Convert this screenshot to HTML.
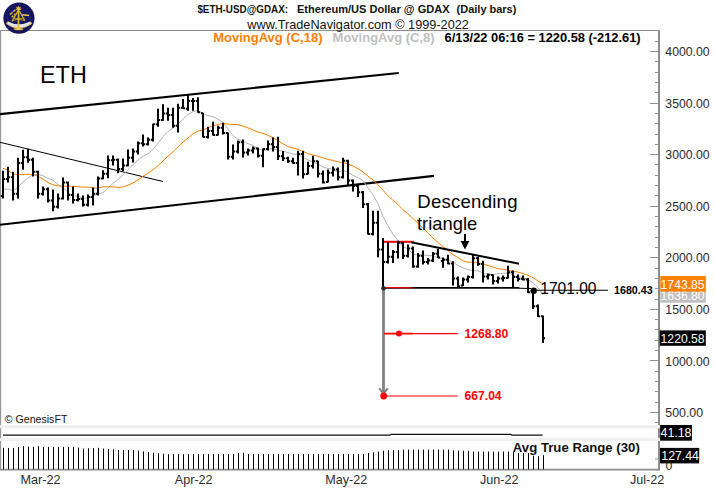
<!DOCTYPE html>
<html><head><meta charset="utf-8"><title>ETH chart</title>
<style>
html,body{margin:0;padding:0;background:#fff;}
body{width:714px;height:504px;overflow:hidden;font-family:"Liberation Sans",Arial,sans-serif;}
svg{display:block;position:absolute;left:0;top:0;}
</style></head><body>
<svg width="714" height="504" viewBox="0 0 714 504" font-family="Liberation Sans, Arial, sans-serif">
<rect width="714" height="504" fill="#fff"/>
<!-- frame -->
<path d="M0 30.5H659.8" stroke="#8a8a8a" stroke-width="1.1" fill="none"/>
<path d="M0.65 30V470" stroke="#888" stroke-width="1" fill="none"/>
<path d="M659 30V470.5" stroke="#8c8c8c" stroke-width="2" fill="none"/>
<path d="M0 469.7H659.6" stroke="#8c8c8c" stroke-width="1.8" fill="none"/>
<!-- separator bands -->
<rect x="0" y="425.2" width="660" height="3" fill="#f0f0f0"/>
<rect x="0" y="438" width="660" height="3" fill="#f0f0f0"/>
<path d="M3 435.1H390L391 434.3H511L512 435.1H542.6" stroke="#111" stroke-width="1.15" fill="none"/>
<!-- ticks -->
<path d="M655 422.5H658.2M650 412.5H658.2M655 402.5H658.2M655 391.5H658.2M655 381.5H658.2M655 371.5H658.2M650 360.5H658.2M655 350.5H658.2M655 340.5H658.2M655 329.5H658.2M655 319.5H658.2M650 309.5H658.2M655 299.5H658.2M655 288.5H658.2M655 278.5H658.2M655 268.5H658.2M650 257.5H658.2M655 247.5H658.2M655 237.5H658.2M655 226.5H658.2M655 216.5H658.2M650 206.5H658.2M655 195.5H658.2M655 185.5H658.2M655 175.5H658.2M655 164.5H658.2M650 154.5H658.2M655 144.5H658.2M655 134.5H658.2M655 123.5H658.2M655 113.5H658.2M650 103.5H658.2M655 92.5H658.2M655 82.5H658.2M655 72.5H658.2M655 61.5H658.2M650 51.5H658.2M655 41.5H658.2M655 459H658.2" stroke="#909090" stroke-width="1" fill="none"/>
<g font-size="12.8" fill="#2b2b2b"><text x="665.3" y="417.1" textLength="37.8" lengthAdjust="spacingAndGlyphs">500.00</text><text x="665.3" y="365.5" textLength="44.4" lengthAdjust="spacingAndGlyphs">1000.00</text><text x="665.3" y="313.9" textLength="44.4" lengthAdjust="spacingAndGlyphs">1500.00</text><text x="665.3" y="262.3" textLength="44.4" lengthAdjust="spacingAndGlyphs">2000.00</text><text x="665.3" y="210.8" textLength="44.4" lengthAdjust="spacingAndGlyphs">2500.00</text><text x="665.3" y="159.2" textLength="44.4" lengthAdjust="spacingAndGlyphs">3000.00</text><text x="665.3" y="107.6" textLength="44.4" lengthAdjust="spacingAndGlyphs">3500.00</text><text x="665.3" y="56.0" textLength="44.4" lengthAdjust="spacingAndGlyphs">4000.00</text></g>
<!-- channel lines -->
<path d="M0 114.2L398.8 73.0" stroke="#000" stroke-width="2.2" fill="none"/>
<path d="M0 224.8L434 175.9" stroke="#000" stroke-width="2.1" fill="none"/>
<path d="M0 142.3L163 181.5" stroke="#000" stroke-width="1" fill="none"/>
<!-- MAs -->
<polyline points="3.0,189.1 8.0,189.1 13.0,190.9 18.0,187.1 23.0,182.0 28.0,178.0 33.0,174.7 38.0,174.4 43.0,175.7 48.0,178.6 53.0,180.2 58.0,184.7 63.0,187.8 68.0,192.2 73.0,195.8 78.0,196.4 83.0,198.3 88.0,197.9 93.0,196.3 98.0,193.8 103.0,192.7 108.0,188.4 113.0,183.3 118.0,179.6 123.0,174.7 128.0,169.8 133.0,164.5 138.0,160.1 143.0,156.4 148.0,153.9 153.0,149.4 158.0,143.3 163.0,136.8 168.0,131.4 173.0,128.2 178.0,123.8 183.0,119.3 188.0,114.5 193.0,111.6 198.0,110.6 203.0,113.6 208.0,115.6 213.0,116.7 218.0,119.3 223.0,122.3 228.0,129.2 233.0,135.6 238.0,139.3 243.0,141.2 248.0,143.7 253.0,145.4 258.0,148.8 263.0,150.8 268.0,149.3 273.0,148.7 278.0,150.5 283.0,151.2 288.0,152.5 293.0,154.3 298.0,154.1 303.0,157.3 308.0,160.0 313.0,161.8 318.0,164.0 323.0,167.0 328.0,168.4 333.0,169.3 338.0,172.2 343.0,170.5 348.0,172.3 353.0,175.4 358.0,177.7 363.0,180.4 368.0,188.1 373.0,194.7 378.0,203.8 383.0,216.4 388.0,225.9 393.0,234.2 398.0,240.5 403.0,247.0 408.0,248.8 413.0,254.2 418.0,255.0 423.0,255.0 428.0,255.5 433.0,255.7 438.0,257.9 443.0,258.4 448.0,260.3 453.0,261.8 458.0,265.6 463.0,267.8 468.0,269.8 473.0,270.4 478.0,270.8 483.0,272.9 488.0,274.3 493.0,274.6 498.0,273.6 503.0,273.5 508.0,272.9 513.0,275.2 518.0,277.1 523.0,277.4 528.0,279.6 533.0,282.8 538.0,287.5 543.0,295.1" fill="none" stroke="#b2b2b2" stroke-width="1"/>
<polyline points="3.0,168.3 8.0,170.3 13.0,173.8 18.0,174.7 23.0,174.4 28.0,174.3 33.0,174.5 38.0,176.3 43.0,179.2 48.0,182.5 53.0,184.8 58.0,185.9 63.0,186.1 68.0,186.2 73.0,186.3 78.0,186.7 83.0,187.1 88.0,187.1 93.0,188.0 98.0,188.0 103.0,186.9 108.0,186.8 113.0,186.9 118.0,187.4 123.0,187.1 128.0,185.1 133.0,183.0 138.0,179.8 143.0,176.3 148.0,173.1 153.0,169.8 158.0,165.7 163.0,160.9 168.0,156.2 173.0,151.8 178.0,146.8 183.0,142.1 188.0,137.8 193.0,133.8 198.0,131.1 203.0,129.9 208.0,127.7 213.0,126.0 218.0,124.4 223.0,123.4 228.0,124.1 233.0,124.5 238.0,124.6 243.0,126.2 248.0,127.9 253.0,129.9 258.0,132.1 263.0,133.4 268.0,135.4 273.0,137.6 278.0,140.6 283.0,143.8 288.0,146.5 293.0,148.0 298.0,149.3 303.0,151.4 308.0,153.6 313.0,155.1 318.0,156.1 323.0,157.8 328.0,159.5 333.0,160.4 338.0,161.9 343.0,162.6 348.0,164.0 353.0,166.0 358.0,168.7 363.0,171.9 368.0,176.2 373.0,179.8 378.0,184.7 383.0,190.2 388.0,195.9 393.0,200.2 398.0,204.5 403.0,209.7 408.0,213.9 413.0,218.6 418.0,223.2 423.0,228.3 428.0,232.9 433.0,238.1 438.0,242.5 443.0,246.6 448.0,250.6 453.0,254.7 458.0,257.6 463.0,260.8 468.0,262.3 473.0,262.1 478.0,262.5 483.0,263.8 488.0,265.6 493.0,267.0 498.0,268.7 503.0,269.3 508.0,270.2 513.0,271.1 518.0,272.1 523.0,273.5 528.0,275.3 533.0,277.8 538.0,280.8 543.0,284.1" fill="none" stroke="#ff8000" stroke-width="1"/>
<path d="M383 241.8H413.7" stroke="#f00" stroke-width="2" fill="none"/>
<!-- bars -->
<path d="M3.0 170.7V198.5M0.9 195.9H3.0M3.0 178.9H5.1M8.0 166.7V182.6M5.9 178.9H8.0M8.0 177.3H10.1M13.0 171.7V200.4M10.9 177.3H13.0M13.0 193.8H15.1M18.0 157.8V198.5M15.9 193.8H18.0M18.0 162.9H20.1M23.0 149.8V169.7M20.9 162.9H23.0M23.0 157.2H25.1M28.0 148.8V162.7M25.9 157.2H28.0M28.0 159.8H30.1M33.0 157.8V176.6M30.9 159.8H33.0M33.0 171.7H35.1M38.0 170.7V198.5M35.9 171.7H38.0M38.0 193.8H40.1M43.0 186.5V195.5M40.9 193.8H43.0M43.0 189.2H45.1M48.0 187.5V202.4M45.9 189.2H48.0M48.0 200.5H50.1M53.0 189.5V211.3M50.9 200.5H53.0M53.0 206.7H55.1M58.0 193.5V208.4M55.9 206.7H58.0M58.0 198.5H60.1M63.0 177.6V199.4M60.9 198.5H63.0M63.0 182.5H65.1M68.0 181.6V200.4M65.9 182.5H68.0M68.0 194.9H70.1M73.0 186.5V203.4M70.9 194.9H73.0M73.0 200.0H75.1M78.0 193.5V201.4M75.9 200.0H78.0M78.0 199.0H80.1M83.0 195.5V206.4M80.9 199.0H83.0M83.0 204.7H85.1M88.0 194.5V206.4M85.9 204.7H88.0M88.0 196.9H90.1M93.0 187.5V205.4M90.9 196.9H93.0M93.0 193.8H95.1M98.0 176.6V195.5M95.9 193.8H98.0M98.0 178.4H100.1M103.0 170.3V179.2M100.9 178.4H103.0M103.0 173.7H105.1M108.0 155.4V178.3M105.9 173.7H108.0M108.0 160.3H110.1M113.0 155.4V165.4M110.9 160.3H113.0M113.0 159.8H115.1M118.0 158.4V173.3M115.9 159.8H118.0M118.0 169.1H120.1M123.0 158.4V171.3M120.9 169.1H123.0M123.0 165.5H125.1M128.0 149.5V166.3M125.9 165.5H128.0M128.0 157.7H130.1M133.0 148.5V162.4M130.9 157.7H133.0M133.0 151.5H135.1M138.0 141.5V154.4M135.9 151.5H138.0M138.0 143.3H140.1M143.0 134.6V146.5M140.9 143.3H143.0M143.0 144.3H145.1M148.0 137.6V145.5M145.9 144.3H148.0M148.0 139.7H150.1M153.0 123.7V141.5M150.9 139.7H153.0M153.0 124.2H155.1M158.0 108.8V126.7M155.9 124.2H158.0M158.0 120.1H160.1M163.0 104.2V120.7M160.9 120.1H163.0M163.0 113.4H165.1M168.0 107.8V120.7M165.9 113.4H168.0M168.0 114.9H170.1M173.0 107.8V127.7M170.9 114.9H173.0M173.0 125.8H175.1M178.0 103.8V132.6M175.9 125.8H178.0M178.0 107.7H180.1M183.0 98.9V108.8M180.9 107.7H183.0M183.0 108.3H185.1M188.0 93.9V110.8M185.9 108.7H188.0M188.0 101.0H190.1M193.0 97.9V110.8M190.9 101.0H193.0M193.0 101.0H195.1M198.0 97.3V112.8M195.9 101.0H198.0M198.0 112.3H200.1M203.0 112.8V137.6M200.9 113.3H203.0M203.0 137.1H205.1M208.0 126.7V138.6M205.9 137.1H208.0M208.0 130.9H210.1M213.0 121.7V135.6M210.9 130.9H213.0M213.0 135.0H215.1M218.0 125.7V135.6M215.9 135.0H218.0M218.0 127.8H220.1M223.0 122.7V134.6M220.9 127.8H223.0M223.0 133.0H225.1M228.0 132.6V159.4M225.9 133.1H228.0M228.0 156.7H230.1M233.0 144.5V159.4M230.9 156.7H233.0M233.0 151.5H235.1M238.0 140.6V153.5M235.9 151.5H238.0M238.0 142.3H240.1M243.0 139.6V157.4M240.9 142.3H243.0M243.0 152.6H245.1M248.0 148.5V155.4M245.9 152.6H248.0M248.0 150.5H250.1M253.0 146.5V153.5M250.9 150.5H253.0M253.0 148.5H255.1M258.0 147.5V157.4M255.9 148.5H258.0M258.0 155.7H260.1M263.0 148.5V167.3M260.9 155.7H263.0M263.0 149.0H265.1M268.0 140.6V150.5M265.9 149.0H268.0M268.0 144.3H270.1M273.0 137.6V151.5M270.9 144.3H273.0M273.0 146.9H275.1M278.0 136.8V160.0M275.9 146.9H278.0M278.0 156.2H280.1M283.0 151.0V161.0M280.9 156.2H283.0M283.0 158.3H285.1M288.0 156.7V162.7M285.9 158.3H288.0M288.0 161.3H290.1M293.0 157.7V163.7M290.9 161.3H293.0M293.0 162.9H295.1M298.0 150.8V175.6M295.9 162.9H298.0M298.0 154.1H300.1M303.0 150.8V178.5M300.9 154.1H303.0M303.0 174.2H305.1M308.0 161.7V174.6M305.9 174.1H308.0M308.0 166.0H310.1M313.0 155.7V168.6M310.9 166.0H313.0M313.0 161.3H315.1M318.0 160.7V177.5M315.9 161.3H318.0M318.0 173.7H320.1M323.0 170.6V183.5M320.9 173.7H323.0M323.0 182.5H325.1M328.0 169.6V182.5M325.9 182.0H328.0M328.0 172.7H330.1M333.0 166.6V176.5M330.9 172.7H333.0M333.0 169.6H335.1M338.0 167.6V180.5M335.9 169.6H338.0M338.0 177.3H340.1M343.0 157.7V178.5M340.9 177.3H343.0M343.0 160.8H345.1M348.0 159.7V185.5M345.9 160.8H348.0M348.0 180.4H350.1M353.0 179.5V191.4M350.9 180.4H353.0M353.0 186.1H355.1M358.0 184.2V197.1M355.9 186.1H358.0M358.0 192.3H360.1M363.0 191.0V208.0M360.9 192.3H363.0M363.0 204.2H365.1M368.0 203.0V234.5M365.9 204.2H368.0M368.0 234.0H370.1M373.0 210.7V235.5M370.9 234.1H373.0M373.0 222.7H375.1M378.0 210.7V257.3M375.9 222.7H378.0M378.0 249.5H380.1M383.0 238.0V288.5M380.9 249.5H383.0M383.0 261.9H385.1M388.0 242.2V263.5M385.9 261.9H388.0M388.0 256.8H390.1M393.0 250.0V263.0M390.9 256.8H393.0M393.0 252.1H395.1M398.0 240.7V258.5M395.9 252.1H398.0M398.0 242.8H400.1M403.0 241.7V259.0M400.9 242.8H403.0M403.0 255.7H405.1M408.0 244.6V257.5M405.9 255.7H408.0M408.0 248.5H410.1M413.0 246.6V267.7M410.9 248.5H413.0M413.0 266.6H415.1M418.0 253.0V267.7M415.9 266.6H418.0M418.0 255.7H420.1M423.0 250.6V264.5M420.9 255.7H423.0M423.0 261.9H425.1M428.0 258.0V264.5M425.9 261.9H428.0M428.0 260.4H430.1M433.0 252.0V262.0M430.9 260.4H433.0M433.0 253.7H435.1M438.0 249.0V258.0M435.9 253.7H438.0M438.0 257.5H440.1M443.0 257.5V267.7M440.9 260.9H443.0M443.0 259.8H445.1M448.0 254.8V264.2M445.9 259.8H448.0M448.0 263.5H450.1M453.0 261.2V285.5M450.9 263.5H453.0M453.0 278.4H455.1M458.0 276.6V287.5M455.9 278.4H458.0M458.0 286.2H460.1M463.0 277.6V286.0M460.9 285.5H463.0M463.0 279.4H465.1M468.0 275.6V282.5M465.9 279.4H468.0M468.0 276.9H470.1M473.0 254.8V278.6M470.9 276.9H473.0M473.0 258.3H475.1M478.0 256.7V265.7M475.9 258.3H478.0M478.0 264.0H480.1M483.0 260.7V282.5M480.9 264.0H483.0M483.0 276.4H485.1M488.0 273.6V279.6M485.9 276.4H488.0M488.0 274.8H490.1M493.0 274.6V284.5M490.9 275.1H493.0M493.0 281.0H495.1M498.0 276.6V283.5M495.9 281.0H498.0M498.0 278.4H500.1M503.0 275.6V281.5M500.9 278.4H503.0M503.0 277.9H505.1M508.0 265.7V278.6M505.9 277.9H508.0M508.0 272.2H510.1M513.0 270.6V287.5M510.9 272.2H513.0M513.0 276.9H515.1M518.0 274.6V281.5M515.9 276.9H518.0M518.0 278.9H520.1M523.0 275.6V280.6M520.9 278.9H523.0M523.0 279.4H525.1M528.0 278.0V293.0M525.9 279.4H528.0M528.0 292.3H530.1M533.0 289.5V309.0M530.9 292.3H533.0M533.0 306.3H535.1M538.0 304.4V317.0M535.9 306.3H538.0M538.0 316.2H540.1M543.0 315.4V343.0M540.9 316.2H543.0M543.0 338.2H545.1" stroke="#000" stroke-width="2" fill="none"/>
<!-- triangle -->
<path d="M411 242.2L519 263.8" stroke="#000" stroke-width="2" fill="none"/>
<path d="M383 287.9H519.3" stroke="#000" stroke-width="1.9" fill="none"/>
<path d="M519 288.2L531 288.5M534 290.2H608" stroke="#000" stroke-width="1.05" fill="none"/>
<path d="M384 287.5L412.7 287.8" stroke="#f00" stroke-width="1.2" fill="none"/>
<!-- gray arrow -->
<path d="M383.5 290V393" stroke="#808080" stroke-width="2.8" fill="none"/>
<path d="M379.3 388.3L383.5 393.6L387.7 388.3" stroke="#808080" stroke-width="2" fill="none"/>
<circle cx="383.5" cy="288.3" r="2.2" fill="#222"/>
<circle cx="533.7" cy="290.7" r="3.2" fill="#000"/>
<!-- red targets -->
<path d="M384 333.6H413" stroke="#f00" stroke-width="1.8"/>
<path d="M413 333.6H457.8" stroke="#f00" stroke-width="1.1"/>
<circle cx="398.9" cy="333.6" r="3" fill="#f00"/>
<path d="M384 396H457.8" stroke="#f00" stroke-width="1.2"/>
<circle cx="383.7" cy="396" r="3.4" fill="#f00"/>
<g font-size="12.1" font-weight="bold" fill="#f00">
<text x="464.6" y="338">1268.80</text>
<text x="464.6" y="400">667.04</text>
</g>
<!-- annotation -->
<g font-size="18.6" fill="#000">
<text x="417.3" y="207.8" letter-spacing="0.22">Descending</text>
<text x="417.0" y="229.7" font-size="18.4">triangle</text>
<text x="40" y="83.2" font-size="24" textLength="46.8" lengthAdjust="spacingAndGlyphs">ETH</text>
</g>
<path d="M465 234V243" stroke="#000" stroke-width="2"/>
<path d="M460.6 240.9H469.4L465 249.6Z" fill="#000"/>
<text x="540.3" y="293.8" font-size="15.9" fill="#000" textLength="56.2" lengthAdjust="spacingAndGlyphs">1701.00</text>
<text x="614" y="294" font-size="10.7" font-weight="bold" fill="#000">1680.43</text>
<!-- price tags -->
<rect x="660.3" y="291" width="45.5" height="11.7" fill="#c0c0c0"/>
<text x="660.6" y="299.8" font-size="12.4" fill="#fff" textLength="44" lengthAdjust="spacingAndGlyphs">1636.80</text>
<rect x="660.3" y="276" width="45.5" height="15.6" fill="#ff8000"/>
<text x="660.6" y="288.5" font-size="12.4" fill="#fff" textLength="44" lengthAdjust="spacingAndGlyphs">1743.85</text>
<rect x="659.7" y="330.4" width="46.1" height="15.4" fill="#000"/>
<text x="660.6" y="342.5" font-size="12.4" fill="#fff" textLength="44" lengthAdjust="spacingAndGlyphs">1220.58</text>
<rect x="660.1" y="425" width="31.8" height="15.7" fill="#000"/>
<text x="660.5" y="437.4" font-size="12.4" fill="#fff" textLength="31" lengthAdjust="spacingAndGlyphs">41.18</text>
<text x="665.6" y="470" font-size="12.3" fill="#2b2b2b">0</text>
<rect x="660" y="447.9" width="39.2" height="15.5" fill="#000"/>
<text x="661.3" y="460.3" font-size="12.3" fill="#fff">127.44</text>
<!-- ATR -->
<path d="M3.5 447.8V469.4M8.5 447.9V469.4M13.5 447.9V469.4M18.5 447.0V469.4M23.5 446.1V469.4M28.5 446.6V469.4M33.5 446.6V469.4M38.5 446.1V469.4M43.5 446.9V469.4M48.5 446.9V469.4M53.5 446.9V469.4M58.5 446.9V469.4M63.5 446.9V469.4M68.5 446.9V469.4M73.5 446.9V469.4M78.5 447.7V469.4M83.5 448.6V469.4M88.5 448.3V469.4M93.5 448.1V469.4M98.5 447.8V469.4M103.5 448.6V469.4M108.5 449.0V469.4M113.5 449.4V469.4M118.5 450.0V469.4M123.5 450.0V469.4M128.5 450.0V469.4M133.5 450.0V469.4M138.5 450.6V469.4M143.5 451.4V469.4M148.5 452.1V469.4M153.5 452.8V469.4M158.5 453.3V469.4M163.5 453.7V469.4M168.5 454.2V469.4M173.5 454.2V469.4M178.5 454.2V469.4M183.5 454.2V469.4M188.5 454.1V469.4M193.5 454.1V469.4M198.5 454.1V469.4M203.5 454.1V469.4M208.5 454.1V469.4M213.5 454.1V469.4M218.5 454.0V469.4M223.5 454.0V469.4M228.5 454.0V469.4M233.5 454.0V469.4M238.5 452.8V469.4M243.5 452.8V469.4M248.5 454.0V469.4M253.5 454.0V469.4M258.5 454.0V469.4M263.5 454.0V469.4M268.5 454.0V469.4M273.5 454.0V469.4M278.5 454.0V469.4M283.5 454.0V469.4M288.5 454.0V469.4M293.5 454.0V469.4M298.5 454.0V469.4M303.5 454.0V469.4M308.5 453.9V469.4M313.5 453.9V469.4M318.5 453.9V469.4M323.5 453.9V469.4M328.5 453.9V469.4M333.5 453.9V469.4M338.5 453.9V469.4M343.5 453.9V469.4M348.5 453.9V469.4M353.5 453.9V469.4M358.5 453.9V469.4M363.5 453.9V469.4M368.5 453.0V469.4M373.5 452.4V469.4M378.5 451.6V469.4M383.5 450.8V469.4M388.5 450.2V469.4M393.5 450.2V469.4M398.5 450.2V469.4M403.5 449.6V469.4M408.5 449.6V469.4M413.5 449.6V469.4M418.5 449.6V469.4M423.5 449.6V469.4M428.5 449.6V469.4M433.5 449.6V469.4M438.5 449.6V469.4M443.5 449.6V469.4M448.5 449.6V469.4M453.5 450.4V469.4M458.5 450.5V469.4M463.5 450.7V469.4M468.5 450.8V469.4M473.5 451.6V469.4M478.5 451.6V469.4M483.5 451.6V469.4M488.5 451.6V469.4M493.5 451.6V469.4M498.5 451.6V469.4M503.5 451.6V469.4M508.5 451.6V469.4M513.5 452.2V469.4M518.5 453.0V469.4M523.5 453.0V469.4M528.5 453.0V469.4M533.5 455.8V469.4M538.5 456.2V469.4M543.5 455.2V469.4" stroke="#000" stroke-width="1" fill="none"/>
<text x="512.8" y="452" font-size="13.2" font-weight="bold" fill="#111">Avg True Range (30)</text>
<!-- x labels -->
<g font-size="12.6" fill="#2b2b2b">
<text x="20.6" y="483.6">Mar-22</text>
<text x="174.8" y="483.6">Apr-22</text>
<text x="325.2" y="483.6">May-22</text>
<text x="480" y="483.6">Jun-22</text>
<text x="629.9" y="483.6">Jul-22</text>
</g>
<text x="4.8" y="422.6" font-size="10.6" fill="#111">© GenesisFT</text>
<!-- header -->
<g font-size="10.9" font-weight="bold" fill="#111" lengthAdjust="spacingAndGlyphs">
<text x="197.4" y="12.6" textLength="90.6" lengthAdjust="spacingAndGlyphs">$ETH-USD@GDAX:</text>
<text x="297" y="12.6" textLength="152.6" lengthAdjust="spacingAndGlyphs">Ethereum/US Dollar @ GDAX</text>
<text x="456.6" y="12.6" textLength="59.8" lengthAdjust="spacingAndGlyphs">(Daily bars)</text>
</g>
<text x="247.3" y="28.6" font-size="13.1" fill="#111" textLength="221.6" lengthAdjust="spacingAndGlyphs">www.TradeNavigator.com © 1999-2022</text>
<g font-size="13" font-weight="bold">
<text x="213.2" y="41.6" fill="#ff8000">MovingAvg (C,18)</text>
<text x="332.6" y="41.6" fill="#c0c0c0">MovingAvg (C,8)</text>
<text x="444.6" y="41.6" font-size="12.85" fill="#000">6/13/22 06:16 = 1220.58 (-212.61)</text>
</g>
<!-- logo -->
<g>
<circle cx="18.95" cy="18.2" r="15.6" fill="#15155e"/>
<circle cx="18.95" cy="18.2" r="12" fill="#1a1a6a" opacity="0.5"/>
<g fill="#5560a8"><circle cx="9" cy="10" r=".45"/><circle cx="27" cy="8.5" r=".45"/><circle cx="30.5" cy="18" r=".45"/><circle cx="7" cy="17" r=".4"/><circle cx="24" cy="5.5" r=".4"/><circle cx="12" cy="6.5" r=".4"/><circle cx="29" cy="27" r=".4"/><circle cx="8.5" cy="27.5" r=".4"/></g>
<path d="M6.3 23.7Q18.5 32.9 31.8 23.7L30.3 21.6Q18.5 27.1 8.1 21.4Z" fill="#e4e4ec"/>
<path d="M6.4 23.6Q18.5 32.4 31.7 23.6" stroke="#d8b030" stroke-width=".7" fill="none"/>
<path d="M6.2 23.8L8.3 21.7M31.9 23.8L30.1 21.9" stroke="#e0b828" stroke-width="1.1" fill="none"/>
<path d="M17.9 10.8L12.1 21.4M19.2 10.8L24.9 20.8" stroke="#d9ad1f" stroke-width="1.3" fill="none"/>
<path d="M13.2 20.4L24.3 17.6M13.6 17.8L24.6 20.6" stroke="#d0a41c" stroke-width=".9" fill="none"/>
<path d="M18.5 7V28.6" stroke="#e2b822" stroke-width="1.8" fill="none"/>
<path d="M18.5 5.6L19.2 7.2L21.1 6.7L20.2 8.3L21.6 9.8L19.5 9.9L18.5 11.2L17.6 9.9L15.5 9.8L16.9 8.3L16 6.7L17.9 7.2Z" fill="#e6c030"/>
<path d="M10 14.6L12.6 12.3M13.2 11.8L15.4 9.9M11.7 17.3L13.4 15.6M14 15L15.4 13.7" stroke="#dcb224" stroke-width="1.5" fill="none"/>
<path d="M22.2 14.8L29.1 15.5" stroke="#edc94a" stroke-width="1.5" fill="none"/>
<path d="M21.6 14.2V16" stroke="#d9ad1f" stroke-width="1" fill="none"/>
<ellipse cx="18.5" cy="29.1" rx="5" ry="1.2" fill="#e4ba24"/>
<ellipse cx="18.5" cy="28.9" rx="2.2" ry=".6" fill="#f6e27a"/>
</g>
</svg>
</body></html>
